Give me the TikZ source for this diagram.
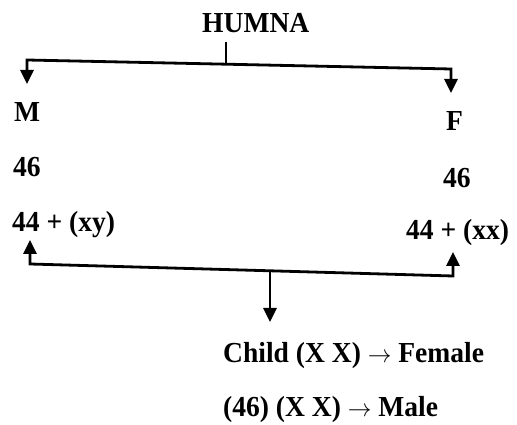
\documentclass[tikz,border=0pt]{standalone}
\usepackage{fontspec}
\setmainfont{Liberation Serif}
\usetikzlibrary{arrows.meta}
\newcommand{\tx}[1]{\scalebox{0.95}[1]{#1}}
\begin{document}
\begin{tikzpicture}[x=1pt,y=1pt,
  lbl/.style={font=\fontsize{29}{32}\selectfont\bfseries, inner sep=0pt, anchor=base west},
  ln/.style={line width=2.8pt, line join=miter},
  tip/.style={-{Triangle[width=13pt,length=14pt]}}]
\useasboundingbox (0,0) rectangle (517,425);
% texts
\node[lbl] (h) at (202,392) {\tx{HUMNA}};
\node[lbl] (m) at (14,303) {\tx{M}};
\node[lbl] (m46) at (13,248) {\tx{46}};
\node[lbl] (mxy) at (12,193) {\tx{44 + (xy)}};
\node[lbl] (f) at (446,294) {\tx{F}};
\node[lbl] (f46) at (443,237) {\tx{46}};
\node[lbl] (fxx) at (406,185) {\tx{44 + (xx)}};
\node[lbl] (c1) at (223,62) {\tx{Child (X X) $\rightarrow$ Female}};
\node[lbl] (c2) at (223,8) {\tx{(46) (X X) $\rightarrow$ Male}};
% top bracket
\coordinate (ts) at (226,383);
\coordinate (tj) at (226,360.8);
\coordinate (tl) at (27,365);
\coordinate (tr) at (451,356);
\coordinate (tlt) at (27,341);
\coordinate (trt) at (451,332);
\draw[ln] (ts) -- (tj);
\draw[ln,tip] (tj) -- (tl) -- (tlt);
\draw[ln,tip] (tj) -- (tr) -- (trt);
% bottom bracket
\coordinate (bl) at (30,161);
\coordinate (br) at (453,149);
\coordinate (blt) at (30,185);
\coordinate (brt) at (453,173);
\coordinate (bj) at (270,154.2);
\coordinate (bt) at (270,103);
\draw[ln,tip] (bj) -- (bl) -- (blt);
\draw[ln,tip] (bj) -- (br) -- (brt);
\draw[ln,tip] (bj) -- (bt);
\end{tikzpicture}
\end{document}
